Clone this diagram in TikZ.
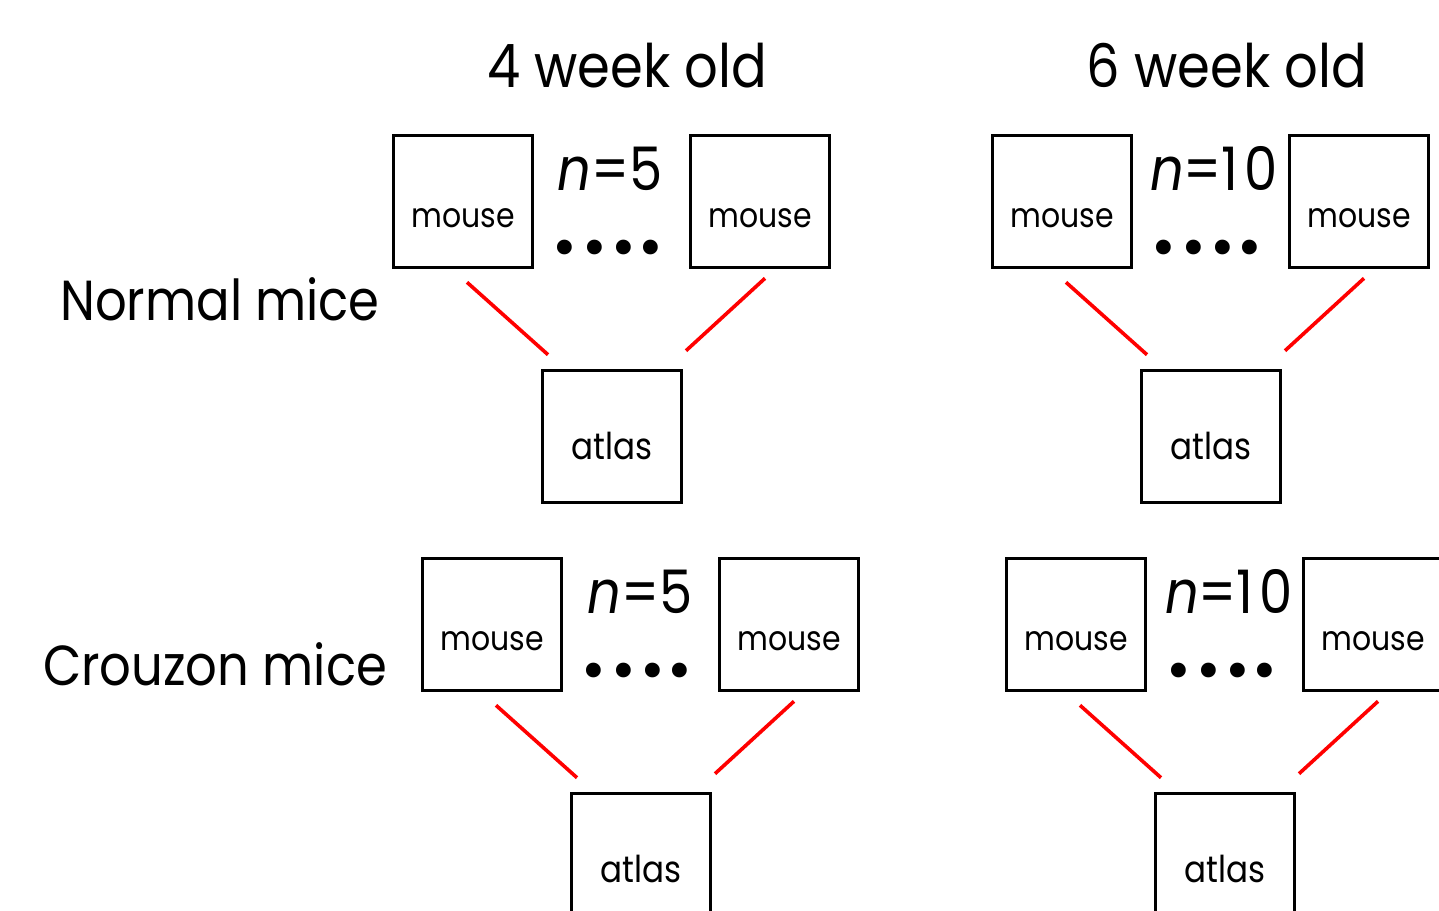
\documentclass[tikz,border=0pt]{standalone}
\usepackage{fontspec}
\setmainfont{Poppins}[FakeStretch=0.88]
\newfontfamily\dotfont{Poppins}
\begin{document}
\begin{tikzpicture}[x=0.5pt,y=-0.5pt,
  box/.style={draw,line width=1.8pt,minimum width=69.5pt,minimum height=66pt,inner sep=0pt,text depth=0pt},
  mousebox/.style={box,text height=26pt,font=\fontsize{17}{20}\selectfont},
  atlasbox/.style={box,text height=23pt,font=\fontsize{18.5}{22}\selectfont},
  link/.style={draw=red,line width=1.8pt},
  title/.style={anchor=base,font=\fontsize{30}{36}\selectfont},
  rowlabel/.style={anchor=base,font=\fontsize{28.2}{34}\selectfont},
  count/.style={anchor=base,font=\fontsize{30}{34}\selectfont,inner sep=0pt},
  dots/.style={anchor=base,font=\dotfont\fontsize{30}{34}\selectfont,inner sep=0pt}
]
\useasboundingbox (0,0) rectangle (1439,910);

\node[title] (t4) at (627,87) {4 week old};
\node[title] (t6) at (1227,87) {6 week old};
\node[rowlabel] (rn) at (220,320) {Normal mice};
\node[rowlabel] (rc) at (215,685) {Crouzon mice};

% group A
\begin{scope}[shift={(392,134)}]
\node[mousebox] (am1) at (71,67.5) {mouse};
\node[mousebox] (am2) at (368,67.5) {mouse};
\node[atlasbox] (aat) at (220,302.5) {atlas};
\node[count] (an) at (218,56) {\textit{n}=5};
\node[dots] (ad) at (216,133) {•\hspace{2.5pt}•\hspace{2.5pt}•\hspace{1pt}•};
\end{scope}
\draw[link] ([shift={(4,13)}]am1.south) -- ([shift={(-64,-14)}]aat.north);
\draw[link] ([shift={(5,9)}]am2.south) -- ([shift={(74,-18)}]aat.north);

% group B
\begin{scope}[shift={(991,134)}]
\node[mousebox] (bm1) at (71,67.5) {mouse};
\node[mousebox] (bm2) at (368,67.5) {mouse};
\node[atlasbox] (bat) at (220,302.5) {atlas};
\node[count] (bn) at (223,56) {\textit{n}=1\hspace{3pt}0};
\node[dots] (bd) at (216,133) {•\hspace{2.5pt}•\hspace{2.5pt}•\hspace{1pt}•};
\end{scope}
\draw[link] ([shift={(4,13)}]bm1.south) -- ([shift={(-64,-14)}]bat.north);
\draw[link] ([shift={(5,9)}]bm2.south) -- ([shift={(74,-18)}]bat.north);

% group C
\begin{scope}[shift={(421,557)}]
\node[mousebox] (cm1) at (71,67.5) {mouse};
\node[mousebox] (cm2) at (368,67.5) {mouse};
\node[atlasbox] (cat) at (220,302.5) {atlas};
\node[count] (cn) at (219,56) {\textit{n}=5};
\node[dots] (cd) at (216,133) {•\hspace{2.5pt}•\hspace{2.5pt}•\hspace{1pt}•};
\end{scope}
\draw[link] ([shift={(4,13)}]cm1.south) -- ([shift={(-64,-14)}]cat.north);
\draw[link] ([shift={(5,9)}]cm2.south) -- ([shift={(74,-18)}]cat.north);

% group D
\begin{scope}[shift={(1005,557)}]
\node[mousebox] (dm1) at (71,67.5) {mouse};
\node[mousebox] (dm2) at (368,67.5) {mouse};
\node[atlasbox] (dat) at (220,302.5) {atlas};
\node[count] (dn) at (224,56) {\textit{n}=1\hspace{3pt}0};
\node[dots] (dd) at (217,133) {•\hspace{2.5pt}•\hspace{2.5pt}•\hspace{1pt}•};
\end{scope}
\draw[link] ([shift={(4,13)}]dm1.south) -- ([shift={(-64,-14)}]dat.north);
\draw[link] ([shift={(5,9)}]dm2.south) -- ([shift={(74,-18)}]dat.north);
\end{tikzpicture}
\end{document}
